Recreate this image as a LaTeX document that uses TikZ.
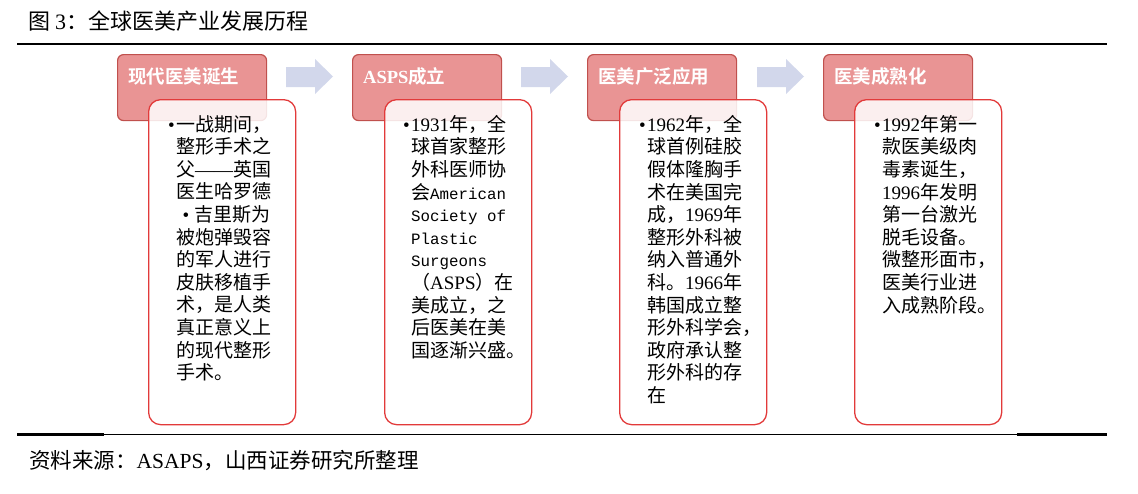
\documentclass[tikz,border=0pt]{standalone}
\usepackage{fontspec}
\setmainfont{Liberation Serif}
\newfontfamily\cjk{Noto Sans CJK SC}[BoldFont={Noto Sans CJK SC Bold}]
\newfontfamily\enmono{Liberation Mono}
\newcommand\yr[1]{{\rmfamily #1}}
\newcommand\enm[1]{{\enmono\fontsize{15.8}{22.6}\selectfont #1}}
\usetikzlibrary{positioning}

\definecolor{headred}{RGB}{233,148,148}
\definecolor{headline}{RGB}{192,80,77}
\definecolor{boxline}{RGB}{226,58,58}
\definecolor{flowblue}{RGB}{210,215,235}

\begin{document}
\begin{tikzpicture}[x=1pt, y=-1pt,
    stagehead/.style={draw=headline, line width=1.2pt, fill=headred, rounded corners=6pt,
      minimum width=149pt, minimum height=66pt, anchor=north west, inner sep=0pt},
    stagebox/.style={draw=boxline, line width=1.3pt, fill=white, fill opacity=0.85,
      rounded corners=12pt, minimum width=147pt, minimum height=325pt, anchor=north west, inner sep=0pt},
    headtext/.style={font=\cjk\bfseries\fontsize{18.5}{22}\selectfont, text=white,
      inner sep=0pt, anchor=base west},
    stagetext/.style={font=\cjk\fontsize{19}{22.6}\selectfont, align=left,
      inner sep=0pt, anchor=north west},
    flow/.style={fill=flowblue}]
    \useasboundingbox (0,0) rectangle (1138,493);

    % title and rules
    \node[anchor=base west, inner sep=0pt, font=\cjk\fontsize{22}{24}\selectfont] (title) at (28,29)
      {图 \yr{3}：全球医美产业发展历程};
    \draw[line width=2.5pt] (17,44) -- (1107,44);
    \draw[line width=1pt] (17,434.5) -- (1107,434.5);
    \draw[line width=2.2pt] (17,434.5) -- (104,434.5);
    \draw[line width=2.2pt] (1017,434.5) -- (1107,434.5);

    % stage headers
    \node[stagehead] (h1) at (117,54) {};
    \node[stagehead] (h2) at (352,54) {};
    \node[stagehead] (h3) at (587,54) {};
    \node[stagehead] (h4) at (823,54) {};
    \node[headtext] (l1) at ([xshift=11pt,yshift=-29pt]h1.north west) {现代医美诞生};
    \node[headtext] (l2) at ([xshift=11pt,yshift=-29pt]h2.north west) {\yr{ASPS}成立};
    \node[headtext] (l3) at ([xshift=11pt,yshift=-29pt]h3.north west) {医美广泛应用};
    \node[headtext] (l4) at ([xshift=11pt,yshift=-29pt]h4.north west) {医美成熟化};

    % arrows between stages
    \foreach \x in {286,521,757}
      \fill[flow] (\x,67) -- ++(29,0) -- ++(0,-8) -- ++(18,17.5) -- ++(-18,17.5)
        -- ++(0,-7) -- ++(-29,0) -- cycle;

    % stage boxes
    \node[stagebox] (b1) at (148,99) {};
    \node[stagebox] (b2) at (384,99) {};
    \node[stagebox] (b3) at (619,99) {};
    \node[stagebox] (b4) at (854,99) {};

    \node[stagetext] (t1) at ([xshift=28pt,yshift=-16pt]b1.north west)
      {\llap{\yr{•}\hspace{1.5pt}}一战期间，\\
       整形手术之\\
       父\yr{——}英国\\
       医生哈罗德\\
       \hspace{6.5pt}\yr{•}\hspace{5.5pt}吉里斯为\\
       被炮弹毁容\\
       的军人进行\\
       皮肤移植手\\
       术，是人类\\
       真正意义上\\
       的现代整形\\
       手术。};
    \node[stagetext] (t2) at ([xshift=27pt,yshift=-16pt]b2.north west)
      {\llap{\yr{•}\hspace{1.5pt}}\yr{1931}年，全\\
       球首家整形\\
       外科医师协\\
       会\enm{American}\\
       \enm{Society of}\\
       \enm{Plastic}\\
       \enm{Surgeons}\\
       （\yr{ASPS}）在\\
       美成立，之\\
       后医美在美\\
       国逐渐兴盛。};
    \node[stagetext] (t3) at ([xshift=28pt,yshift=-16pt]b3.north west)
      {\llap{\yr{•}\hspace{1.5pt}}\yr{1962}年，全\\
       球首例硅胶\\
       假体隆胸手\\
       术在美国完\\
       成，\yr{1969}年\\
       整形外科被\\
       纳入普通外\\
       科。\yr{1966}年\\
       韩国成立整\\
       形外科学会，\\
       政府承认整\\
       形外科的存\\
       在};
    \node[stagetext] (t4) at ([xshift=28pt,yshift=-16pt]b4.north west)
      {\llap{\yr{•}\hspace{1.5pt}}\yr{1992}年第一\\
       款医美级肉\\
       毒素诞生，\\
       \yr{1996}年发明\\
       第一台激光\\
       脱毛设备。\\
       微整形面市，\\
       医美行业进\\
       入成熟阶段。};

    % source
    \node[anchor=base west, inner sep=0pt, font=\cjk\fontsize{21.5}{24}\selectfont] (src) at (29,468)
      {资料来源：\yr{ASAPS}，山西证券研究所整理};
  \end{tikzpicture}
\end{document}
